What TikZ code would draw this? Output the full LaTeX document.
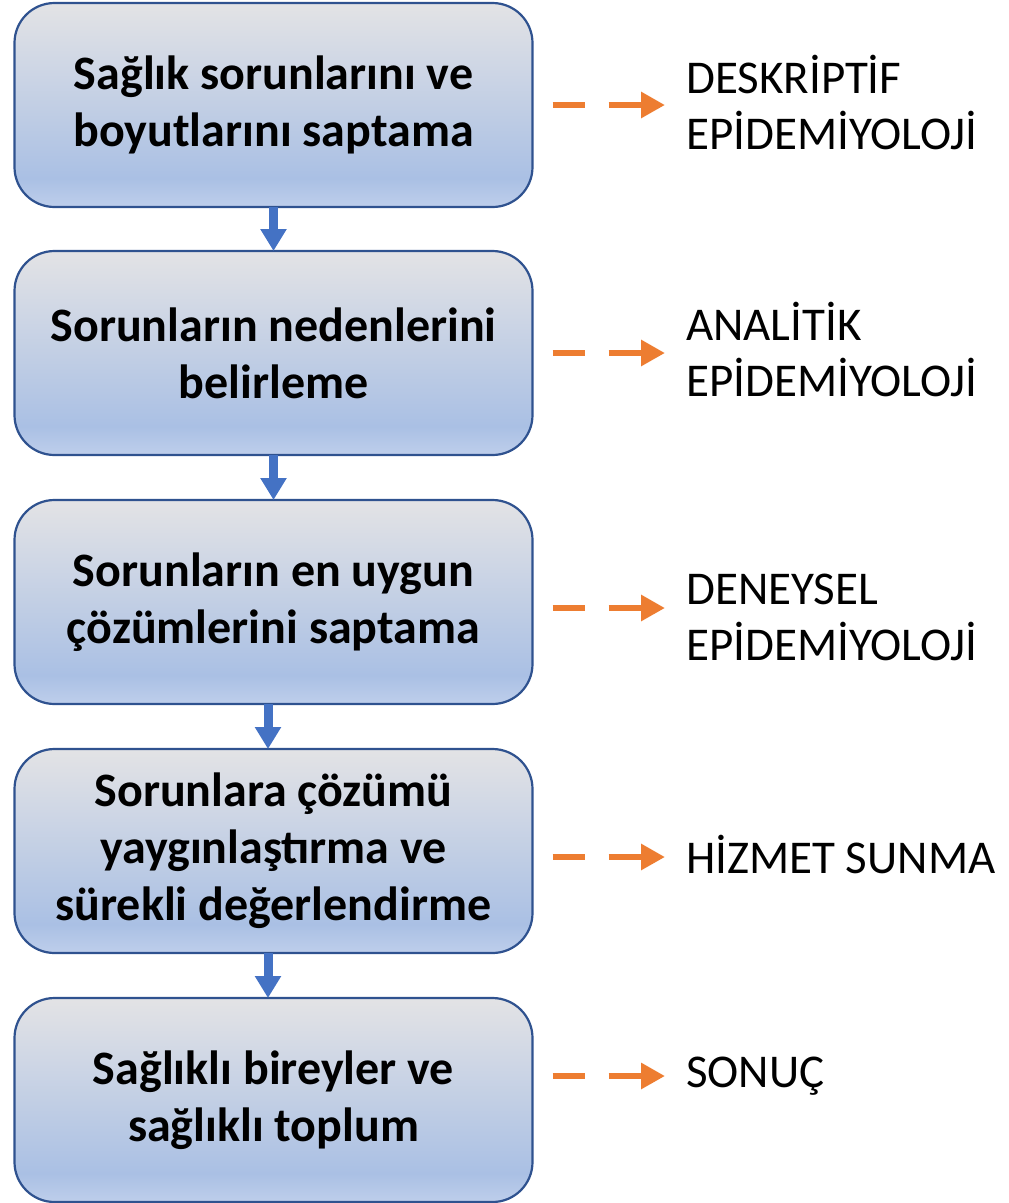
\documentclass[tikz,border=0pt]{standalone}
\usepackage{fontspec}
\setmainfont{Carlito}
\usetikzlibrary{arrows.meta}
\definecolor{boxborder}{RGB}{47,82,143}
\definecolor{boxtop}{RGB}{227,227,229}
\definecolor{boxmid}{RGB}{170,192,228}
\definecolor{boxbot}{RGB}{190,206,235}
\definecolor{flowblue}{RGB}{68,114,196}
\definecolor{sideorange}{RGB}{237,125,49}
\pgfdeclareverticalshading{boxshade}{100bp}{color(0bp)=(boxbot); color(25bp)=(boxbot); color(32bp)=(boxmid); color(75bp)=(boxtop); color(100bp)=(boxtop)}
\tikzset{
  stagebox/.style={draw=boxborder, line width=2.2pt, rounded corners=40pt, shading=boxshade,
    minimum width=518pt, minimum height=204pt, align=center, outer sep=0pt,
    font=\fontsize{48}{57}\selectfont\bfseries},
  sidelabel/.style={anchor=west, align=left, inner sep=0pt, font=\fontsize{47}{56}\selectfont},
  flowarrow/.style={draw=flowblue, line width=9pt, -{Triangle[length=22pt,width=25pt]}},
  sidearrow/.style={draw=sideorange, line width=6.5pt, dash pattern=on 32pt off 24pt,
    -{Triangle[length=24pt,width=25pt]}, shorten <=20pt, shorten >=21pt}
}
\begin{document}
\begin{tikzpicture}[x=1pt,y=-1pt]
\useasboundingbox (0,0) rectangle (1009,1203);
% stages
\node[stagebox] (b1) at (273.5,105) {Sağlık sorunlarını ve\\boyutlarını saptama};
\node[stagebox] (b2) at (273.5,353) {Sorunların nedenlerini\\belirleme};
\node[stagebox] (b3) at (273.5,602) {Sorunların en uygun\\çözümlerini saptama};
\node[stagebox] (b4) at (273.5,851) {Sorunlara çözümü\\yaygınlaştırma ve\\sürekli değerlendirme};
\node[stagebox] (b5) at (273.5,1100) {Sağlıklı bireyler ve\\sağlıklı toplum};
% labels
\node[sidelabel] (l1) at (686,102) {DESKRİPTİF\\EPİDEMİYOLOJİ};
\node[sidelabel] (l2) at (686,349) {ANALİTİK\\EPİDEMİYOLOJİ};
\node[sidelabel] (l3) at (686,617) {DENEYSEL\\EPİDEMİYOLOJİ};
\node[sidelabel] (l4) at (686,854) {HİZMET SUNMA};
\node[sidelabel] (l5) at (686,1076) {SONUÇ};
% flow
\draw[flowarrow] (b1.south) -- (b2.north);
\draw[flowarrow] (b2.south) -- (b3.north);
\draw[flowarrow] ([xshift=-5.5pt]b3.south) -- ([xshift=-5.5pt]b4.north);
\draw[flowarrow] ([xshift=-5.5pt]b4.south) -- ([xshift=-5.5pt]b5.north);
% side arrows
\draw[sidearrow] (b1.east) -- (b1.east -| l1.west);
\draw[sidearrow] (b2.east) -- (b2.east -| l2.west);
\draw[sidearrow] ([yshift=-6pt]b3.east) -- ([yshift=-6pt]b3.east -| l3.west);
\draw[sidearrow] ([yshift=-6pt]b4.east) -- ([yshift=-6pt]b4.east -| l4.west);
\draw[sidearrow] ([yshift=24pt]b5.east) -- ([yshift=24pt]b5.east -| l5.west);
\end{tikzpicture}
\end{document}
